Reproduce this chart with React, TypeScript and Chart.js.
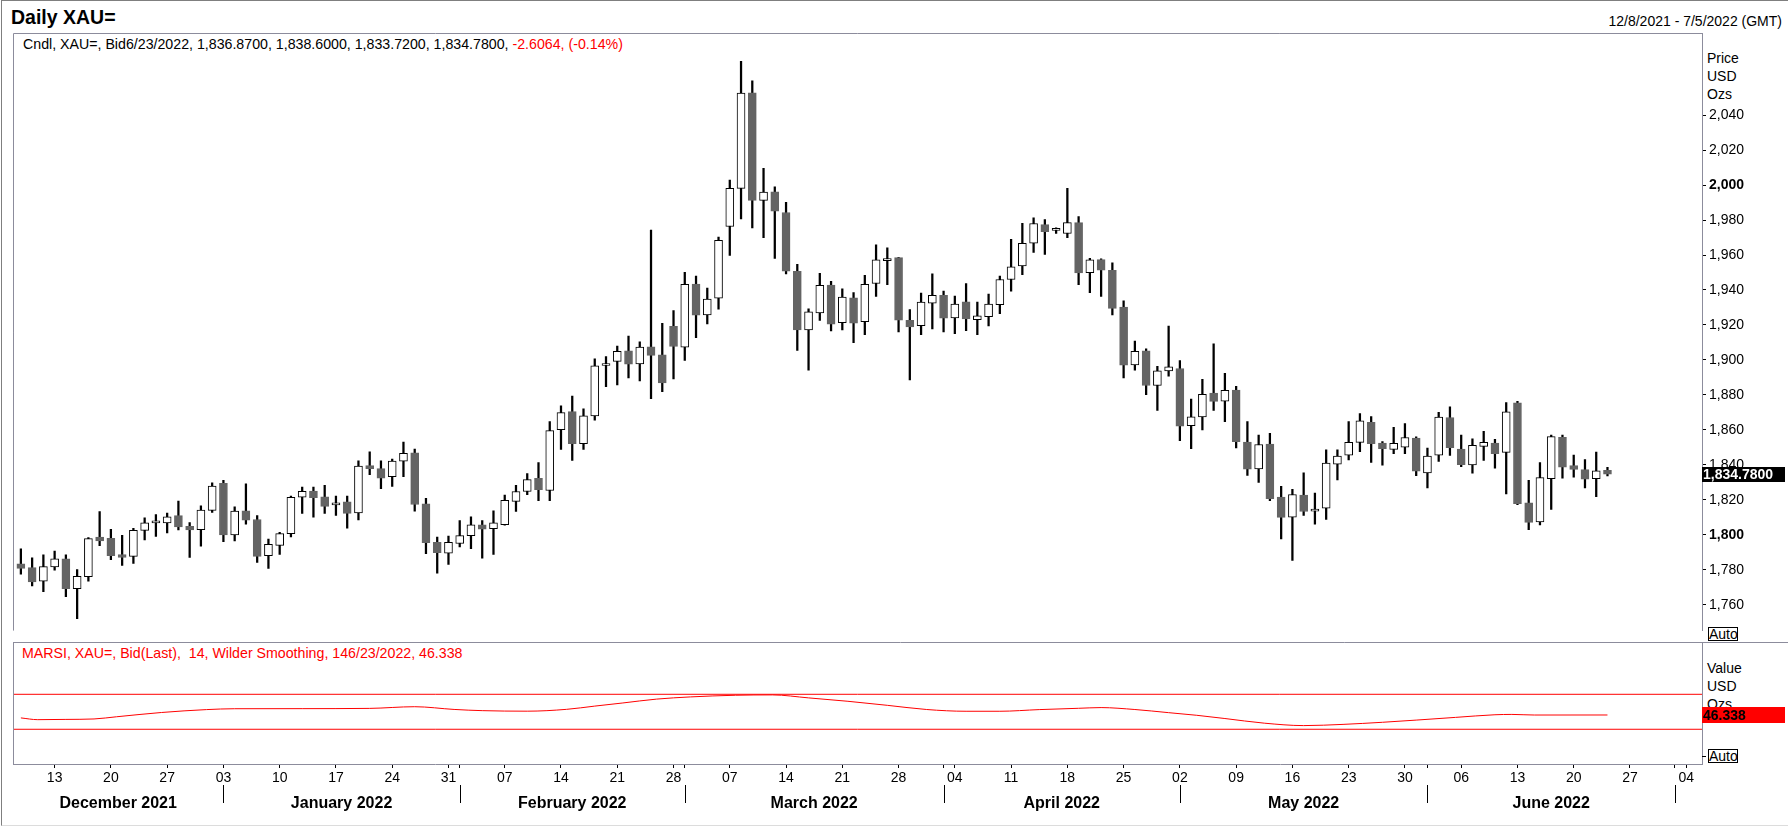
import { useEffect, useRef } from "react";
import { Chart, registerables, type ChartConfiguration, type Plugin } from "chart.js";

Chart.register(...registerables);

const FONT = "Arial, 'Liberation Sans', sans-serif";
Chart.defaults.font.family = FONT;
Chart.defaults.color = "#000";

// Daily candles, one per weekday from 8 Dec 2021 (index 0) to 23 Jun 2022 (index 141)
const opens = [
  1783.4, 1781.3, 1773.6, 1781.7, 1786.3, 1769.2, 1776.1, 1798.7, 1798.1, 1788.8,
  1787.7, 1802.6, 1806.9, 1806.9, 1811.0, 1804.9, 1803.0, 1814.0, 1829.5, 1800.0,
  1813.8, 1808.8, 1788.2, 1794.0, 1800.7, 1821.5, 1825.1, 1821.7, 1817.2, 1818.9,
  1812.5, 1839.6, 1837.9, 1833.3, 1842.2, 1846.9, 1817.8, 1795.7, 1789.5, 1795.1,
  1799.6, 1805.8, 1803.5, 1805.8, 1819.2, 1824.8, 1832.3, 1825.4, 1860.2, 1870.5,
  1852.1, 1868.0, 1896.9, 1899.2, 1905.2, 1897.8, 1907.5, 1903.0, 1919.2, 1907.3,
  1943.4, 1925.8, 1935.3, 1976.3, 1998.1, 2052.7, 1991.2, 1996.1, 1984.3, 1950.7,
  1917.2, 1926.9, 1942.8, 1921.3, 1935.5, 1921.9, 1943.7, 1956.8, 1958.5, 1922.6,
  1919.6, 1932.5, 1937.0, 1924.1, 1933.3, 1923.0, 1924.7, 1931.6, 1946.0, 1953.8,
  1966.7, 1977.4, 1974.1, 1972.3, 1978.5, 1949.9, 1957.4, 1951.2, 1930.3, 1897.2,
  1905.2, 1885.4, 1893.8, 1895.1, 1862.4, 1867.5, 1881.1, 1876.4, 1882.8, 1853.1,
  1837.7, 1851.9, 1821.6, 1810.2, 1822.8, 1813.6, 1815.3, 1840.5, 1845.6, 1852.9,
  1864.3, 1852.5, 1848.9, 1850.1, 1855.3, 1835.5, 1845.6, 1867.1, 1849.1, 1840.0,
  1850.6, 1852.5, 1847.2, 1875.5, 1818.3, 1807.4, 1832.1, 1855.8, 1839.6, 1837.3,
  1832.1, 1836.87,
];
const highs = [
  1792.0, 1786.9, 1788.6, 1790.8, 1788.6, 1780.2, 1798.5, 1813.3, 1803.2, 1799.8,
  1803.7, 1809.7, 1811.6, 1812.5, 1819.4, 1807.1, 1816.6, 1829.7, 1831.2, 1816.1,
  1829.2, 1811.0, 1797.6, 1801.5, 1822.2, 1827.3, 1827.3, 1828.4, 1822.2, 1822.2,
  1842.4, 1847.5, 1842.4, 1843.4, 1853.1, 1849.0, 1820.9, 1798.7, 1799.3, 1808.2,
  1810.4, 1808.2, 1813.8, 1822.8, 1828.4, 1835.1, 1841.3, 1864.8, 1873.8, 1879.4,
  1872.1, 1900.7, 1901.9, 1908.0, 1913.6, 1910.3, 1974.2, 1920.9, 1928.2, 1950.1,
  1947.9, 1941.1, 1970.3, 2002.8, 2070.7, 2059.5, 2009.5, 1998.9, 1990.1, 1954.6,
  1929.3, 1949.5, 1945.0, 1940.6, 1938.5, 1948.4, 1965.8, 1964.1, 1958.6, 1928.8,
  1938.3, 1949.3, 1939.4, 1936.5, 1943.7, 1933.1, 1937.6, 1947.9, 1969.0, 1978.1,
  1981.3, 1980.2, 1975.5, 1998.1, 1981.9, 1958.1, 1957.8, 1955.5, 1933.8, 1910.8,
  1906.4, 1896.3, 1919.3, 1899.6, 1877.7, 1889.0, 1909.2, 1892.3, 1884.9, 1864.8,
  1857.0, 1858.1, 1827.8, 1826.1, 1835.5, 1823.9, 1848.6, 1848.6, 1864.8, 1869.3,
  1867.6, 1853.4, 1861.5, 1863.7, 1856.0, 1849.7, 1870.1, 1873.2, 1857.0, 1854.9,
  1859.2, 1854.7, 1875.7, 1876.4, 1831.2, 1841.3, 1857.0, 1857.0, 1845.6, 1843.0,
  1847.4, 1838.6,
];
const lows = [
  1777.6, 1770.8, 1767.5, 1779.8, 1764.7, 1752.1, 1773.6, 1793.8, 1785.8, 1782.6,
  1783.7, 1797.2, 1799.2, 1801.1, 1802.8, 1787.1, 1793.6, 1812.9, 1796.1, 1796.6,
  1806.2, 1784.3, 1780.9, 1788.8, 1798.9, 1812.3, 1810.1, 1812.3, 1811.2, 1803.9,
  1808.6, 1834.4, 1826.5, 1827.7, 1833.3, 1813.5, 1789.3, 1778.1, 1783.2, 1793.2,
  1792.1, 1786.7, 1788.9, 1805.5, 1813.4, 1823.0, 1819.6, 1819.6, 1848.9, 1842.6,
  1848.8, 1865.6, 1884.7, 1885.8, 1889.7, 1888.0, 1877.9, 1881.9, 1889.2, 1899.8,
  1912.7, 1920.6, 1929.0, 1959.8, 1980.6, 1975.5, 1969.9, 1958.1, 1949.2, 1905.4,
  1894.2, 1922.6, 1916.6, 1917.2, 1909.9, 1914.4, 1936.3, 1943.0, 1916.1, 1888.6,
  1914.4, 1917.8, 1916.1, 1915.0, 1916.8, 1914.4, 1919.4, 1926.4, 1939.3, 1948.8,
  1961.5, 1960.4, 1972.3, 1969.9, 1943.0, 1938.5, 1936.3, 1925.8, 1889.7, 1894.2,
  1880.2, 1871.2, 1890.8, 1853.8, 1849.3, 1860.0, 1871.2, 1864.7, 1849.7, 1834.0,
  1830.0, 1819.6, 1797.7, 1785.4, 1811.2, 1806.1, 1808.9, 1831.4, 1842.8, 1847.6,
  1841.5, 1839.8, 1846.5, 1846.5, 1833.8, 1826.9, 1842.0, 1845.4, 1839.0, 1835.3,
  1842.6, 1838.1, 1823.5, 1817.3, 1803.0, 1805.7, 1814.5, 1832.5, 1833.0, 1826.9,
  1821.8, 1833.72,
];
const closes = [
  1780.9, 1773.1, 1781.9, 1786.3, 1769.2, 1776.3, 1797.9, 1796.6, 1788.2, 1787.1,
  1802.6, 1806.9, 1808.0, 1810.3, 1804.5, 1802.8, 1814.2, 1827.9, 1800.0, 1813.6,
  1808.4, 1787.7, 1794.6, 1800.7, 1821.5, 1824.9, 1821.3, 1816.3, 1818.3, 1812.3,
  1839.4, 1837.8, 1832.5, 1842.2, 1846.7, 1817.4, 1795.5, 1789.9, 1795.7, 1799.6,
  1805.8, 1803.3, 1806.9, 1819.8, 1824.8, 1831.6, 1825.8, 1859.6, 1869.9, 1852.1,
  1868.0, 1896.6, 1898.0, 1905.0, 1897.6, 1907.3, 1902.6, 1886.9, 1907.7, 1943.2,
  1925.6, 1934.8, 1968.4, 1998.1, 2052.5, 1991.2, 1995.9, 1985.0, 1950.8, 1917.2,
  1927.5, 1942.6, 1920.5, 1935.9, 1921.1, 1943.2, 1957.2, 1957.9, 1922.8, 1918.9,
  1933.1, 1937.0, 1923.9, 1932.0, 1923.4, 1925.2, 1932.0, 1946.0, 1953.3, 1966.7,
  1978.0, 1973.3, 1975.2, 1978.5, 1949.7, 1957.2, 1951.4, 1929.5, 1897.0, 1905.0,
  1885.4, 1893.8, 1896.1, 1862.2, 1867.5, 1880.4, 1876.3, 1882.6, 1853.3, 1837.6,
  1851.7, 1820.7, 1810.0, 1823.1, 1813.4, 1814.7, 1841.1, 1845.0, 1852.9, 1865.2,
  1852.1, 1849.3, 1852.3, 1855.7, 1836.4, 1845.0, 1867.4, 1849.9, 1840.1, 1851.2,
  1852.9, 1846.5, 1870.4, 1817.9, 1807.2, 1832.7, 1856.2, 1838.7, 1837.5, 1831.9,
  1836.6, 1834.78,
];

const priceChange = -2.6064;
const priceChangePct = -0.14;

// smoothed RSI (x = candle index)
const rsiDays = [
  0, 1.5, 4, 6.5, 8.5, 12.5, 16.5, 19, 25, 31, 35, 38.5, 41, 45, 48.5, 51, 53.5,
  56.5, 59.5, 63.5, 66.8, 70, 73.5, 77, 80.5, 84, 87, 90.5, 94, 96, 99, 102,
  104.5, 107, 110.5, 114, 117.5, 121, 124, 127.5, 131, 132.5, 134.5, 141,
];
const rsiValues = [
  43.0, 41.0, 41.3, 41.8, 44.3, 49.2, 52.5, 53.5, 53.6, 53.9, 55.8, 52.7, 51.3,
  50.7, 52.8, 56.5, 60.1, 64.5, 67.0, 68.9, 69.3, 65.9, 62.0, 57.4, 52.6, 50.6,
  50.6, 52.5, 54.0, 54.8, 52.6, 49.0, 46.0, 42.3, 37.0, 34.2, 35.6, 38.0, 40.5,
  43.6, 46.6, 47.0, 46.3, 46.338,
];
const rsiBands = [70, 30];

// axis ticks
const firstMonday = 3;
const weekLabels = [
  "13", "20", "27", "03", "10", "17", "24", "31", "07", "14", "21", "28", "07", "14", "21",
  "28", "04", "11", "18", "25", "02", "09", "16", "23", "30", "06", "13", "20", "27", "04",
];
const monthStarts = [18, 39, 59, 82, 103, 125, 147];
const monthNames = [
  "December 2021", "January 2022", "February 2022", "March 2022", "April 2022", "May 2022", "June 2022",
];
const priceTicks = [1760, 1780, 1800, 1820, 1840, 1860, 1880, 1900, 1920, 1940, 1960, 1980, 2000, 2020, 2040];
const boldPriceTicks = [1800, 2000];

const X_MIN = -0.7;
const X_MAX = 149.4;
const PRICE_MIN = 1745.3;
const PRICE_MAX = 2086.9;
const RSI_MIN = -9.7;
const RSI_MAX = 129.8;

const PANEL = "#8c8c9c";
const DOWN = "#646464";
const RED = "#ff0000";
const AXIS_RIGHT = 1702;
const WIDTH = 1788;

const weekIndex = weekLabels.map((_, i) => firstMonday + 5 * i);
const xTickValues = Array.from(new Set([...weekIndex, ...monthStarts])).sort((a, b) => a - b);
const monthBounds = [X_MIN, ...monthStarts];
const monthCenters = monthNames.map((_, i) => (monthBounds[i] + monthBounds[i + 1]) / 2);

const last = closes.length - 1;
const isUp = (i: number) => closes[i] >= opens[i];

function withCommas(v: number, digits: number) {
  const [int, frac] = v.toFixed(digits).split(".");
  const grouped = int.replace(/\B(?=(\d{3})+(?!\d))/g, ",");
  return frac ? `${grouped}.${frac}` : grouped;
}

const pricePanelPlugin: Plugin<"bar"> = {
  id: "pricePanel",
  afterDraw(chart) {
    const { ctx, chartArea } = chart;
    ctx.save();
    ctx.strokeStyle = PANEL;
    ctx.lineWidth = 1;
    ctx.beginPath();
    ctx.moveTo(chartArea.left + 0.5, chartArea.bottom);
    ctx.lineTo(chartArea.left + 0.5, chartArea.top + 0.5);
    ctx.lineTo(chartArea.right, chartArea.top + 0.5);
    ctx.stroke();

    const y = chart.scales.y.getPixelForValue(closes[last]);
    ctx.fillStyle = "#000";
    ctx.fillRect(AXIS_RIGHT, Math.round(y) - 7, 83, 15);
    ctx.fillStyle = "#fff";
    ctx.font = `bold 14px ${FONT}`;
    ctx.textBaseline = "middle";
    ctx.textAlign = "left";
    ctx.fillText(withCommas(closes[last], 4), AXIS_RIGHT + 1, Math.round(y) + 1);
    ctx.restore();
  },
};

const rsiPanelPlugin: Plugin<"line"> = {
  id: "rsiPanel",
  afterDraw(chart) {
    const { ctx, chartArea } = chart;
    const x = chart.scales.x;
    ctx.save();
    ctx.strokeStyle = PANEL;
    ctx.lineWidth = 1;
    ctx.beginPath();
    ctx.moveTo(chartArea.left, 0.5);
    ctx.lineTo(WIDTH, 0.5);
    ctx.moveTo(chartArea.left + 0.5, 0);
    ctx.lineTo(chartArea.left + 0.5, chartArea.bottom);
    ctx.stroke();

    ctx.strokeStyle = "#000";
    ctx.beginPath();
    for (const m of monthStarts) {
      const px = Math.round(x.getPixelForValue(m)) + 0.5;
      ctx.moveTo(px, 143);
      ctx.lineTo(px, 161);
    }
    ctx.moveTo(AXIS_RIGHT, 114.5);
    ctx.lineTo(AXIS_RIGHT + 4, 114.5);
    ctx.stroke();

    const y = chart.scales.y.getPixelForValue(rsiValues[rsiValues.length - 1]);
    ctx.fillStyle = RED;
    ctx.fillRect(AXIS_RIGHT, Math.round(y) - 8, 83, 16);
    ctx.fillStyle = "#000";
    ctx.font = `bold 14px ${FONT}`;
    ctx.textBaseline = "middle";
    ctx.fillText(rsiValues[rsiValues.length - 1].toFixed(3), AXIS_RIGHT + 1, Math.round(y) + 1);
    ctx.restore();
  },
};

function priceConfig(): ChartConfiguration<"bar"> {
  return {
    type: "bar",
    data: {
      datasets: [
        {
          label: "body",
          data: opens.map((o, i) => ({ x: i, y: [o, closes[i]] })) as any,
          backgroundColor: opens.map((_, i) => (isUp(i) ? "#ffffff" : DOWN)),
          borderColor: opens.map((_, i) => (isUp(i) ? "#000000" : DOWN)),
          borderWidth: 1,
          borderSkipped: false,
          barThickness: 8,
          grouped: false,
          order: 0,
        },
        {
          label: "wick",
          data: lows.map((l, i) => ({ x: i, y: [l, highs[i]] })) as any,
          backgroundColor: "#000000",
          borderWidth: 0,
          barThickness: 1.6,
          grouped: false,
          order: 1,
        },
      ],
    },
    options: {
      animation: false,
      responsive: false,
      maintainAspectRatio: false,
      layout: { padding: { top: 33, left: 13, right: 0, bottom: 0 } },
      plugins: { legend: { display: false }, tooltip: { enabled: false } },
      scales: {
        x: { type: "linear", min: X_MIN, max: X_MAX, display: false, offset: false },
        y: {
          position: "right",
          min: PRICE_MIN,
          max: PRICE_MAX,
          afterFit(scale) {
            scale.width = WIDTH - AXIS_RIGHT;
          },
          afterBuildTicks(scale) {
            scale.ticks = priceTicks.map((value) => ({ value }));
          },
          grid: { drawOnChartArea: false, tickLength: 4, color: "#000" },
          border: { color: PANEL },
          ticks: {
            padding: 3,
            color: "#000",
            font: (ctx: any) => ({
              size: 14,
              weight: boldPriceTicks.includes(ctx.tick?.value) ? "bold" : "normal",
            }),
            callback: (value) => withCommas(Number(value), 0),
          },
        },
      },
    },
    plugins: [pricePanelPlugin],
  };
}

function rsiConfig(): ChartConfiguration<"line"> {
  return {
    type: "line",
    data: {
      datasets: [
        {
          label: "MARSI",
          data: rsiDays.map((d, i) => ({ x: d, y: rsiValues[i] })),
          borderColor: RED,
          borderWidth: 1,
          pointRadius: 0,
          cubicInterpolationMode: "monotone",
        },
        ...rsiBands.map((band) => ({
          label: `band ${band}`,
          data: [
            { x: X_MIN, y: band },
            { x: X_MAX, y: band },
          ],
          borderColor: RED,
          borderWidth: 1,
          pointRadius: 0,
        })),
      ],
    },
    options: {
      animation: false,
      responsive: false,
      maintainAspectRatio: false,
      layout: { padding: { top: 0, left: 13, right: 0, bottom: 0 } },
      plugins: { legend: { display: false }, tooltip: { enabled: false } },
      scales: {
        x: {
          type: "linear",
          position: "bottom",
          weight: 0,
          min: X_MIN,
          max: X_MAX,
          offset: false,
          afterFit(scale) {
            scale.height = 20;
          },
          afterBuildTicks(scale) {
            scale.ticks = xTickValues.map((value) => ({ value }));
          },
          grid: { drawOnChartArea: false, tickLength: 4, color: "#000" },
          border: { color: PANEL },
          ticks: {
            autoSkip: false,
            maxRotation: 0,
            padding: 2,
            color: "#000",
            font: { size: 14 },
            callback: (value) => {
              const k = weekIndex.indexOf(Number(value));
              return k >= 0 ? weekLabels[k] : "";
            },
          },
        },
        xm: {
          type: "linear",
          position: "bottom",
          weight: 1,
          min: X_MIN,
          max: X_MAX,
          offset: false,
          afterFit(scale) {
            scale.height = 43;
          },
          afterBuildTicks(scale) {
            scale.ticks = monthCenters.map((value) => ({ value }));
          },
          grid: { display: false },
          border: { display: false },
          ticks: {
            autoSkip: false,
            maxRotation: 0,
            padding: 2,
            color: "#000",
            font: { size: 16, weight: "bold" },
            callback: (value) => {
              const k = monthCenters.indexOf(Number(value));
              return k >= 0 ? monthNames[k] : "";
            },
          },
        },
        y: {
          position: "right",
          min: RSI_MIN,
          max: RSI_MAX,
          afterFit(scale) {
            scale.width = WIDTH - AXIS_RIGHT;
          },
          grid: { display: false },
          border: { color: PANEL },
          ticks: { display: false },
        },
      },
    },
    plugins: [rsiPanelPlugin],
  };
}

function Text({
  left,
  right,
  top,
  size = 14,
  lineHeight = 16,
  bold = false,
  color = "#000",
  children,
}: {
  left?: number;
  right?: number;
  top: number;
  size?: number;
  lineHeight?: number;
  bold?: boolean;
  color?: string;
  children: React.ReactNode;
}) {
  return (
    <div
      style={{
        position: "absolute",
        left,
        right,
        top,
        fontSize: size,
        lineHeight: `${lineHeight}px`,
        fontWeight: bold ? "bold" : "normal",
        color,
        whiteSpace: "pre",
      }}
    >
      {children}
    </div>
  );
}

function AutoBox({ top }: { top: number }) {
  return (
    <div
      style={{
        position: "absolute",
        left: 1708,
        top,
        width: 30,
        height: 14,
        boxSizing: "border-box",
        border: "1px solid #000",
        background: "#fff",
        fontSize: 14,
        lineHeight: "12px",
        textAlign: "center",
        overflow: "visible",
      }}
    >
      Auto
    </div>
  );
}

export default function App() {
  const priceRef = useRef<HTMLCanvasElement>(null);
  const rsiRef = useRef<HTMLCanvasElement>(null);

  useEffect(() => {
    if (!priceRef.current || !rsiRef.current) {
      return;
    }
    const priceChart = new Chart(priceRef.current, priceConfig());
    const rsiChart = new Chart(rsiRef.current, rsiConfig());
    return () => {
      priceChart.destroy();
      rsiChart.destroy();
    };
  }, []);

  const ohlc = [opens[last], highs[last], lows[last], closes[last]].map((v) => withCommas(v, 4)).join(", ");

  return (
    <div
      style={{
        position: "fixed",
        left: 0,
        top: 0,
        width: WIDTH,
        height: 827,
        background: "#fff",
        fontFamily: FONT,
        overflow: "hidden",
      }}
    >
      <div
        style={{
          position: "absolute",
          left: 1,
          top: 0,
          width: WIDTH - 1,
          height: 826,
          boxSizing: "border-box",
          borderTop: "1px solid #7f7f7f",
          borderLeft: "1px solid #7f7f7f",
          borderBottom: "1px solid #dcdcdc",
        }}
      />
      <Text left={11} top={6} size={19.5} lineHeight={22} bold>
        Daily XAU=
      </Text>
      <Text right={6} top={13}>
        12/8/2021 - 7/5/2022 (GMT)
      </Text>
      <Text left={23} top={36} size={14.2}>
        {`Cndl, XAU=, Bid6/23/2022, ${ohlc}, `}
        <span style={{ color: RED }}>{`${priceChange.toFixed(4)}, (${priceChangePct.toFixed(2)}%)`}</span>
      </Text>
      <Text left={1707} top={49} lineHeight={18}>
        {"Price\nUSD\nOzs"}
      </Text>
      <AutoBox top={627} />
      <Text left={22} top={645} size={14.2} color={RED}>
        {`MARSI, XAU=, Bid(Last),  14, Wilder Smoothing, 146/23/2022, ${rsiValues[rsiValues.length - 1].toFixed(3)}`}
      </Text>
      <Text left={1707} top={659} lineHeight={18}>
        {"Value\nUSD\nOzs"}
      </Text>
      <AutoBox top={749} />
      <canvas ref={priceRef} width={WIDTH} height={642} style={{ position: "absolute", left: 0, top: 0 }} />
      <canvas ref={rsiRef} width={WIDTH} height={185} style={{ position: "absolute", left: 0, top: 642 }} />
    </div>
  );
}
